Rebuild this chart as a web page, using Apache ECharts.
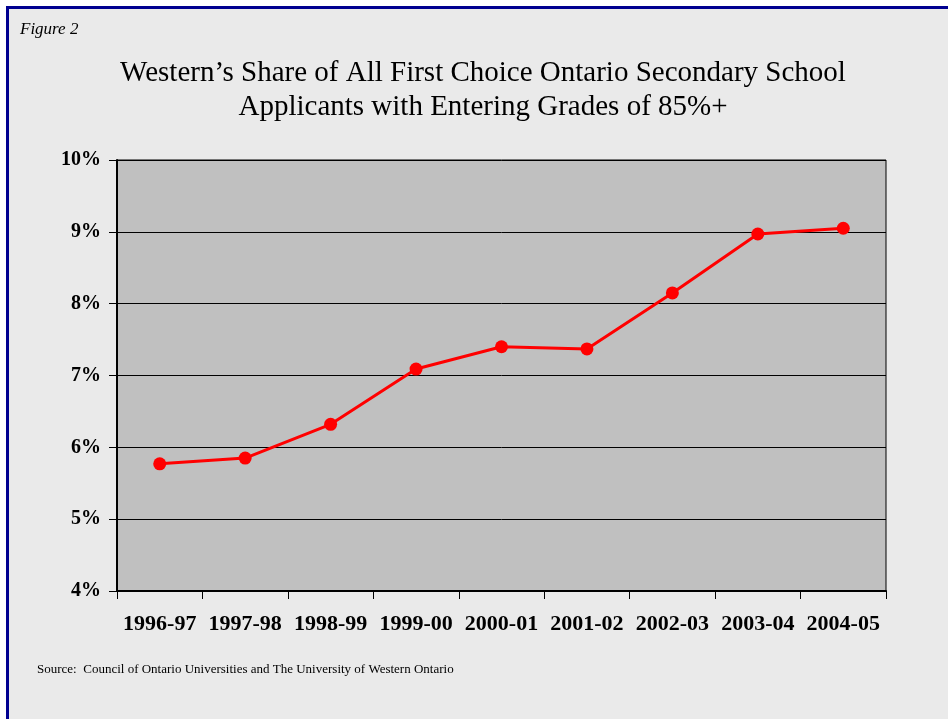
<!DOCTYPE html>
<html lang="en">
<head>
    <meta charset="UTF-8">
    <title>Figure 2</title>
    <script src="https://cdn.jsdelivr.net/npm/echarts@6/dist/echarts.min.js" charset="utf-8"></script>
    <style>
        body { margin: 0; background: #fff; }
        #frame {
            position: absolute; left: 6px; top: 6px; width: 960px; height: 730px;
            background: #eaeaea; border-top: 3px solid #000090; border-left: 3px solid #000090;
        }
        #main { position: absolute; left: 0; top: 0; width: 948px; height: 719px; }
    </style>
</head>
<body>
<div id="frame"></div>
<div id="main"></div>
<script>
    var years = ['1996-97', '1997-98', '1998-99', '1999-00', '2000-01', '2001-02', '2002-03', '2003-04', '2004-05'];
    var shares = [5.77, 5.85, 6.32, 7.09, 7.40, 7.37, 8.15, 8.97, 9.05];
    var yTicks = [4, 5, 6, 7, 8, 9, 10];

    var serif = '"Liberation Serif", "Times New Roman", serif';
    var myChart = echarts.init(document.getElementById('main'));
    var option = {
        backgroundColor: 'transparent',
        animation: false,
        title: [{
            text: 'Figure 2',
            left: 15, top: 16,
            textStyle: {fontFamily: serif, fontStyle: 'italic', fontWeight: 'normal', fontSize: 17, color: '#000'}
        }, {
            text: 'Western\u2019s Share of All First Choice Ontario Secondary School\nApplicants with Entering Grades of 85%+',
            left: 478, top: 51, textAlign: 'center',
            textStyle: {fontFamily: serif, fontWeight: 'normal', fontSize: 29, lineHeight: 34, color: '#000'}
        }, {
            text: 'Source:  Council of Ontario Universities and The University of Western Ontario',
            left: 32, top: 658,
            textStyle: {fontFamily: serif, fontWeight: 'normal', fontSize: 13, color: '#000'}
        }],
        grid: {
            left: 117, top: 160, width: 769, height: 431,
            show: true, backgroundColor: '#c0c0c0', borderColor: '#000', borderWidth: 1
        },
        xAxis: {
            type: 'category',
            data: years,
            boundaryGap: true,
            axisLine: {lineStyle: {color: '#000', width: 2}},
            axisTick: {show: true, interval: 0, length: 8, inside: false, alignWithLabel: false, lineStyle: {color: '#000'}},
            axisLabel: {interval: 0, margin: 22, fontFamily: serif, fontWeight: 'bold', fontSize: 22, color: '#000'}
        },
        yAxis: {
            type: 'value',
            min: yTicks[0], max: yTicks[yTicks.length - 1], interval: 1,
            axisLine: {show: true, lineStyle: {color: '#000', width: 2}},
            axisTick: {show: true, length: 8, lineStyle: {color: '#000'}},
            axisLabel: {margin: 16, formatter: '{value}%', fontFamily: serif, fontWeight: 'bold', fontSize: 20, color: '#000'},
            splitLine: {show: true, lineStyle: {color: '#000', width: 1}}
        },
        series: [{
            type: 'line',
            data: shares,
            symbol: 'circle',
            symbolSize: 13,
            lineStyle: {color: '#ff0000', width: 3},
            itemStyle: {color: '#ff0000'}
        }]
    };
    myChart.setOption(option);
</script>
</body>
</html>
